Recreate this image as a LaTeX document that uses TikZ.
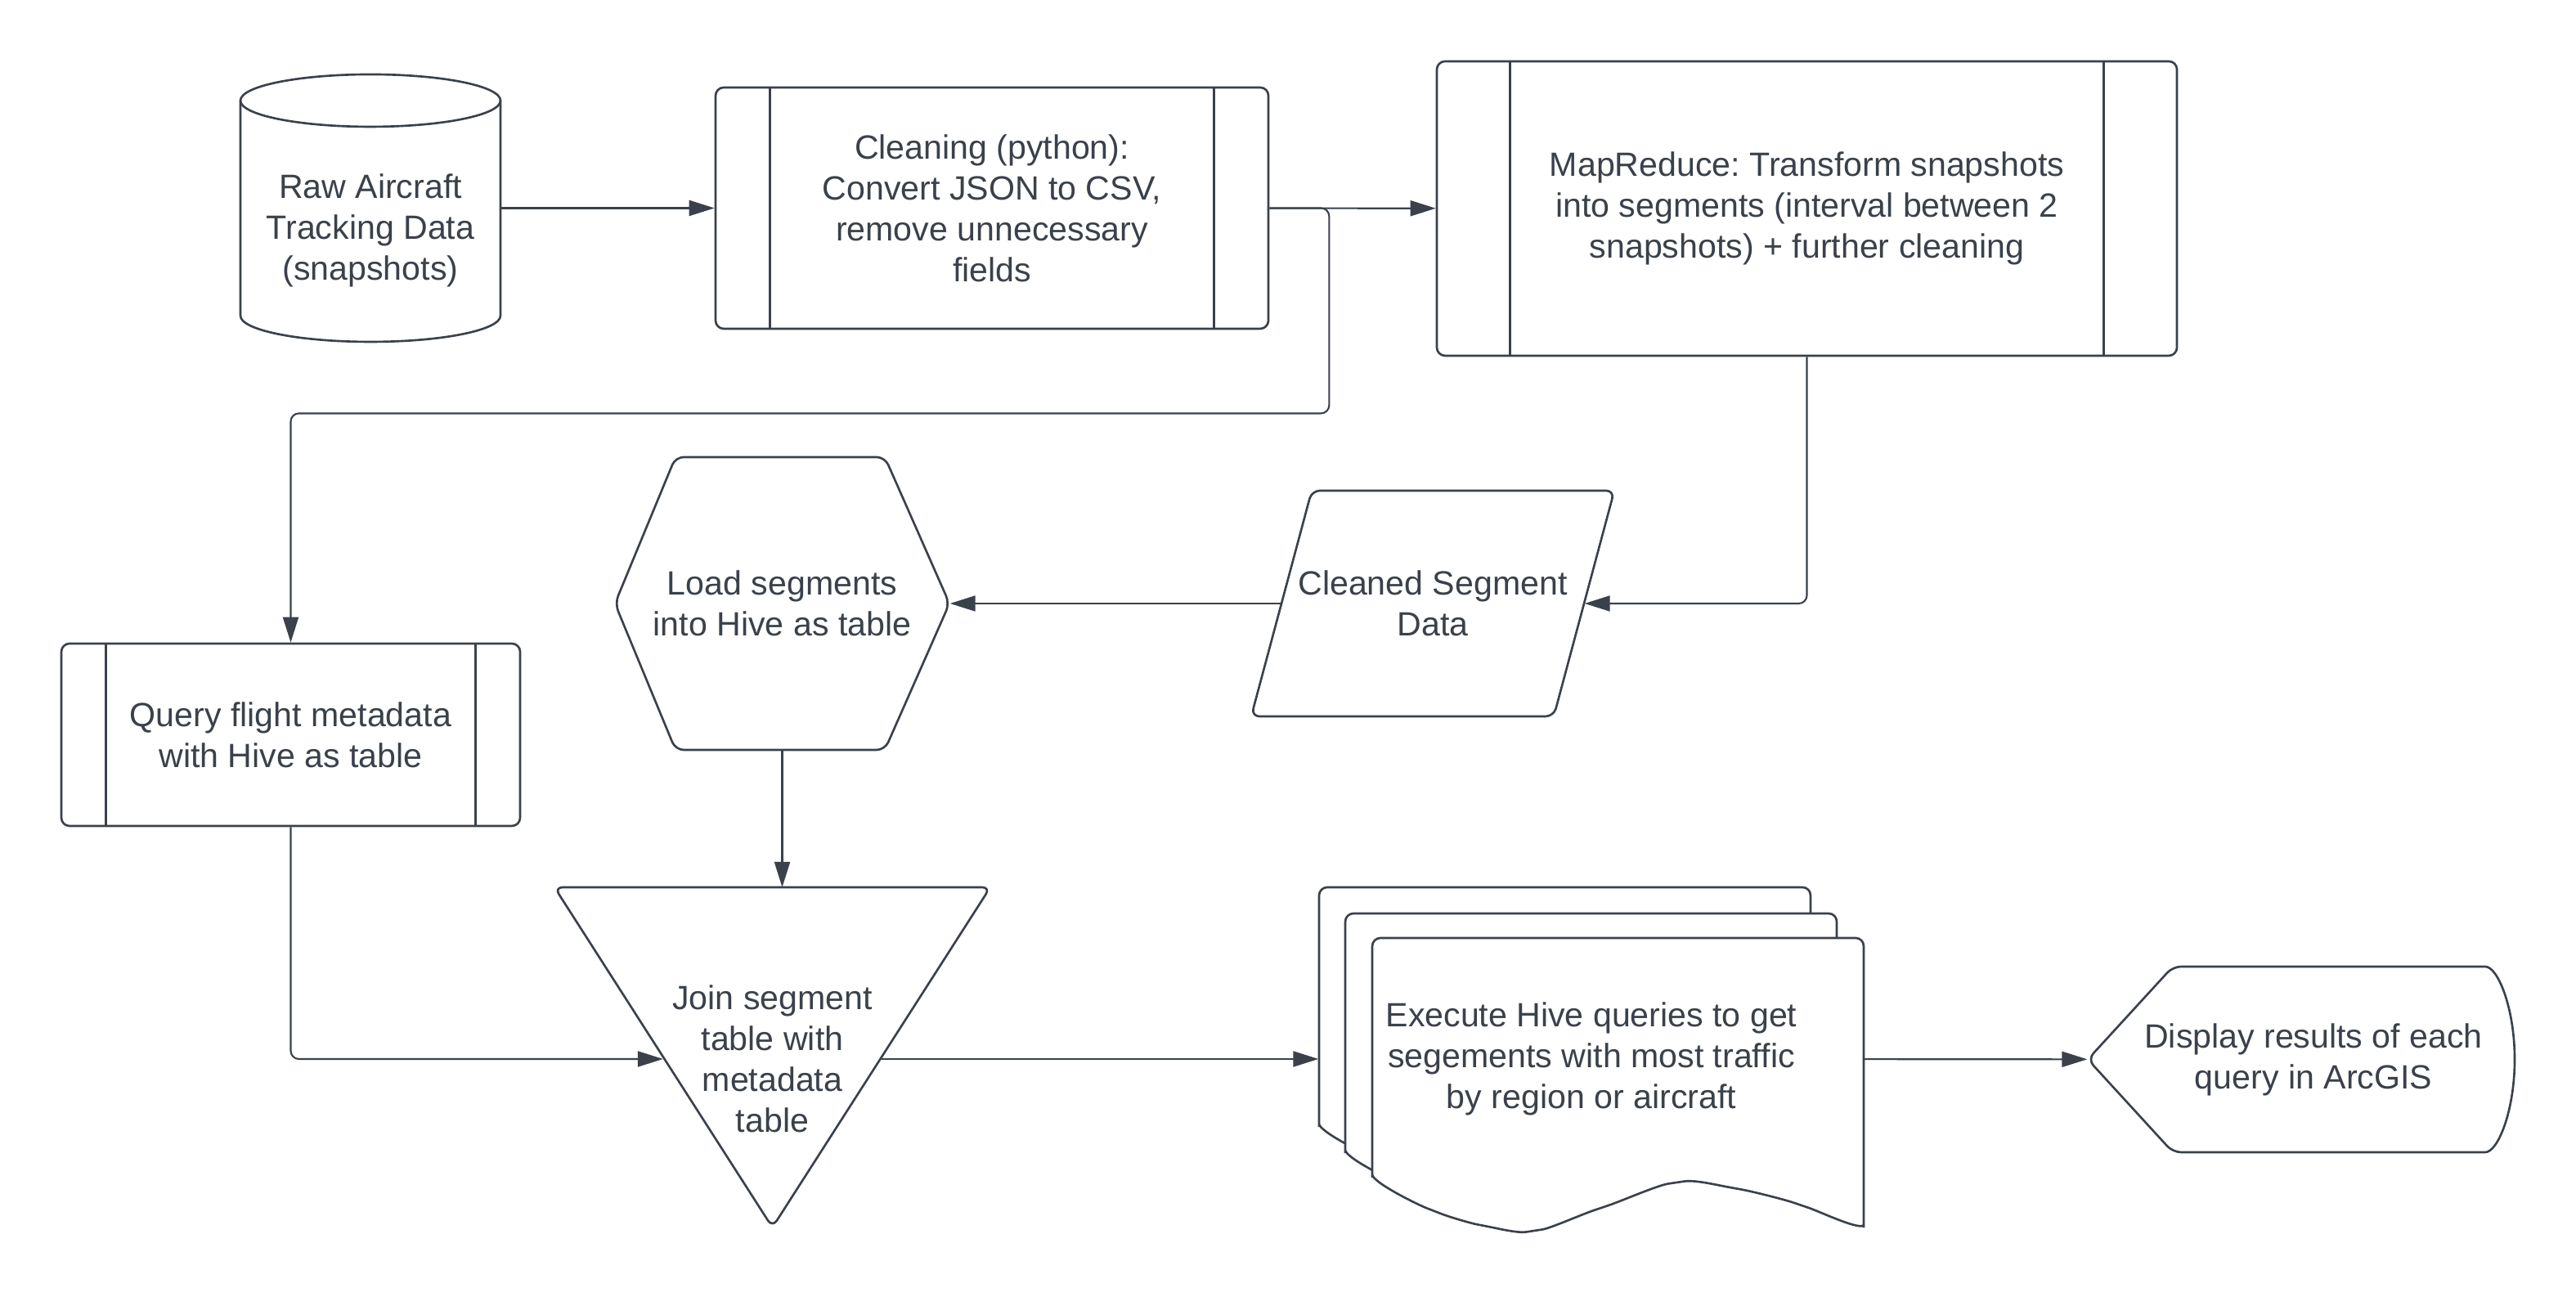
\documentclass[tikz,border=0pt]{standalone}
\usepackage{fontspec}
\setmainfont{Liberation Sans}
\usepackage{tikz}
\usetikzlibrary{arrows.meta}
\definecolor{ink}{RGB}{58,65,74}
\frenchspacing

\begin{document}
\begin{tikzpicture}
  [every node/.style={text=ink,align=center,inner sep=0pt,font=\fontsize{11.7}{14.2}\selectfont},
   figline/.style={draw=ink,line width=0.75pt},
   proc/.style={figline,rounded corners=0.1cm},
   conn/.style={draw=ink,line width=0.6pt,rounded corners=0.1cm,-{Triangle[length=0.31cm,width=0.19cm]}}]

  \path[use as bounding box,fill=white] (0,0) rectangle (31.5,15.86);

  % shapes drawn by hand
  \draw[figline] (4.53,14.63) ellipse [x radius=1.59, y radius=0.32];
  \draw[figline] (2.94,14.63) -- (2.94,12.00)
    arc [start angle=180, end angle=360, x radius=1.59, y radius=0.32] -- (6.12,14.63);

  \draw[proc] (7.52,8.48) -- (8.26,10.27) -- (10.82,10.27) -- (11.61,8.48)
    -- (10.82,6.69) -- (8.26,6.69) -- cycle;

  \draw[proc] (15.30,7.10) -- (16.04,9.86) -- (19.74,9.86) -- (19.00,7.10) -- cycle;

  \draw[proc] (6.78,5.01) -- (12.11,5.01) -- (9.445,0.85) -- cycle;

  \foreach \dx/\dy in {-0.65/0.62,-0.33/0.30,0/0}
    \draw[proc,fill=white,shift={(\dx,\dy)}] (16.78,1.40) -- (16.78,4.39) -- (22.79,4.39) -- (22.79,0.79)
      -- plot[smooth] coordinates {(22.79,0.79) (22.03,1.12) (21.21,1.33) (20.50,1.40) (19.58,1.09)
         (18.76,0.81) (18.15,0.87) (17.54,1.05) (16.78,1.40)} -- cycle;

  \draw[proc] (25.53,2.905) -- (26.57,4.04) -- (30.29,4.04)
    arc [start angle=90, end angle=-90, x radius=0.46, y radius=1.135] -- (26.57,1.77) -- cycle;

  % nodes
  \node (raw) at (4.53,13.04) [minimum width=3.18cm] {Raw Aircraft\\Tracking Data\\(snapshots)};
  \node[proc,minimum width=6.76cm,minimum height=2.95cm] (clean) at (12.13,13.315)
    {Cleaning (python):\\Convert JSON to CSV,\\remove unnecessary\\fields};
  \node[proc,minimum width=9.05cm,minimum height=3.60cm] (mapr) at (22.095,13.31)
    {MapReduce: Transform snapshots\\into segments (interval between 2\\snapshots) + further cleaning};
  \node[proc,minimum width=5.61cm,minimum height=2.23cm] (query) at (3.555,6.875)
    {Query flight metadata\\with Hive as table};
  \node (load) at (9.565,8.48) [minimum width=4.09cm,minimum height=3.58cm] {Load segments\\into Hive as table};
  \node (cleaned) at (17.52,8.48) [minimum width=3.70cm] {Cleaned Segment\\Data};
  \node (join) at (9.445,2.91) [minimum width=2.66cm] {Join segment\\table with\\metadata\\table};
  \coordinate (jointop) at (9.445,5.01);
  \node (exec) at (19.46,2.91) [minimum width=6.66cm]
    {Execute Hive queries to get\\segements with most traffic\\by region or aircraft};
  \node (display) at (28.29,2.905) [minimum width=5.52cm] {Display results of each\\query in ArcGIS};

  \foreach \n/\d in {clean/0.68,mapr/0.91,query/0.56} {
    \draw[figline] ([xshift=\d cm]\n.north west) -- ([xshift=\d cm]\n.south west);
    \draw[figline] ([xshift=-\d cm]\n.north east) -- ([xshift=-\d cm]\n.south east);
  }

  % connectors
  \draw[conn] (raw.east |- clean.west) -- (clean.west);
  \foreach \from/\to in {clean/mapr,cleaned/load,join/exec,exec/display}
    \draw[conn] (\from) -- (\to);
  \draw[conn] (clean.east) -- ++(0.73,0) -- ++(0,-2.51) -| (query.north);
  \draw[conn] (mapr.south) |- (cleaned.east);
  \draw[conn] (load.south) -- (load.south |- jointop);
  \draw[conn] (query.south) |- (join.west);
\end{tikzpicture}
\end{document}
